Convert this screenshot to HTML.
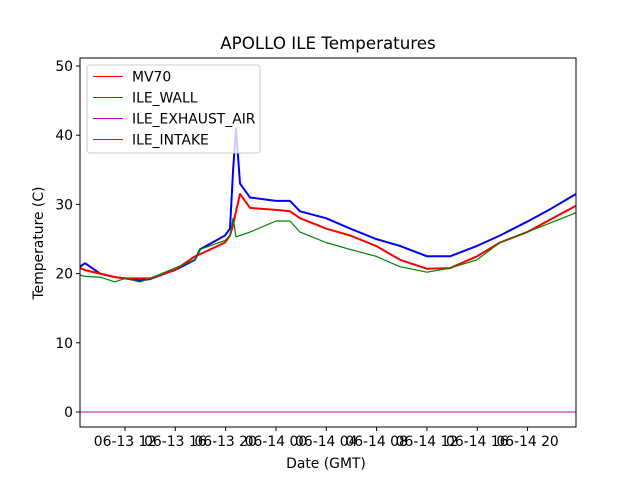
<!DOCTYPE html>
<html><head><meta charset="utf-8"><style>
body{margin:0;background:#fff}
svg{font-family:"DejaVu Sans","Liberation Sans",sans-serif}
</style></head><body>
<svg id="chart" width="640" height="480" viewBox="0 0 640 480">
<rect width="640" height="480" fill="#fff"/>
<text x="328" y="49" font-size="16.7" text-anchor="middle">APOLLO ILE Temperatures</text>
<g id="plot"></g>
<text x="326" y="468" font-size="13.9" text-anchor="middle">Date (GMT)</text>
<text x="43" y="243" font-size="13.9" text-anchor="middle" transform="rotate(-90 43 243)">Temperature (C)</text>
</svg>
<script>
const hours=[8.42,8.82,10.01,11.2,12,13.19,13.99,15.97,17.56,17.96,19.95,20.35,20.59,20.82,21.14,21.94,24,25.12,25.91,27.98,29.89,31.95,33.86,36.01,37.84,39.98,41.81,43.96,45.79,47.85];
const mv70=[20.8,20.5,20,19.5,19.3,19.3,19.3,20.5,22.5,22.8,24.5,25.5,27,29,31.5,29.5,29.2,29,28,26.5,25.5,24,22,20.7,20.8,22.5,24.5,26,27.8,29.8];
const ileWall=[19.8,19.6,19.5,18.8,19.3,18.8,19.3,20.8,22,23.5,24.8,25.5,28,25.3,25.5,26,27.6,27.6,26,24.5,23.5,22.5,21,20.2,20.8,22,24.5,26,27.3,28.8];
const ileExhaust=[0,0,0,0,0,0,0,0,0,0,0,0,0,0,0,0,0,0,0,0,0,0,0,0,0,0,0,0,0,0];
const ileIntake=[21,21.5,20,19.5,19.3,19,19.2,20.5,22,23.5,25.5,26.5,35,41,33,31,30.5,30.5,29,28,26.5,25,24,22.5,22.5,24,25.5,27.5,29.3,31.5];
const yTicks=[0,10,20,30,40,50];
const xTickHours=[12,16,20,24,28,32,36,40,44];
const xTickLabels=["06-13 12","06-13 16","06-13 20","06-14 00","06-14 04","06-14 08","06-14 12","06-14 16","06-14 20"];

const L=80,R=576,T=58,B=427;
const xs=h=>125+(h-12)*12.58;
const ys=v=>412-v*6.92;
const NS="http://www.w3.org/2000/svg";
const g=document.getElementById('plot');
function mk(t,a){const e=document.createElementNS(NS,t);for(const k in a)e.setAttribute(k,a[k]);g.appendChild(e);return e;}

function series(vals,color,w,name){
  const p=mk('polyline',{points:hours.map((h,i)=>xs(h).toFixed(1)+','+ys(vals[i]).toFixed(1)).join(' '),fill:'none',stroke:color,'stroke-width':w,'stroke-linejoin':'round'});
  
  
}
series(ileIntake,'#0000ff',2,'series-ile-intake-blue');
series(mv70,'#ff0000',2,'series-mv70');
series(ileWall,'#008000',1.2,'series-ile-wall');
series(ileExhaust,'#bf00bf',1,'series-ile-exhaust-air');

const frame=mk('rect',{x:L,y:T,width:R-L,height:B-T,fill:'none',stroke:'#000','stroke-width':1});



yTicks.forEach(v=>{
  const y=ys(v);
  const t=mk('line',{x1:L-4,x2:L,y1:y,y2:y,stroke:'#000'});
  
  
  const tx=mk('text',{x:L-7,y:y+5,'font-size':13.9,'text-anchor':'end'});
  tx.textContent=v;
  
  
});
xTickHours.forEach((h,i)=>{
  const x=xs(h);
  const t=mk('line',{x1:x,x2:x,y1:B,y2:B+4,stroke:'#000'});
  
  
  const tx=mk('text',{x:x,y:B+19,'font-size':13.9,'text-anchor':'middle'});
  tx.textContent=xTickLabels[i];
  
  
});

const lg=mk('rect',{x:87,y:65,width:173,height:88,rx:3,fill:'#fff','fill-opacity':0.8,stroke:'#ccc'});


const legendNames=["MV70","ILE_WALL","ILE_EXHAUST_AIR","ILE_INTAKE"];
const legendColors=['#ff0000','#008000','#bf00bf','#008000'];
legendNames.forEach((n,i)=>{
  const y=76.5+i*21;
  const l=mk('line',{x1:93,x2:123,y1:y,y2:y,stroke:legendColors[i],'stroke-width':1});
  
  
  const tx=mk('text',{x:132,y:y+5,'font-size':13.9});
  tx.textContent=n;
  
  
});
</script>
</body></html>
